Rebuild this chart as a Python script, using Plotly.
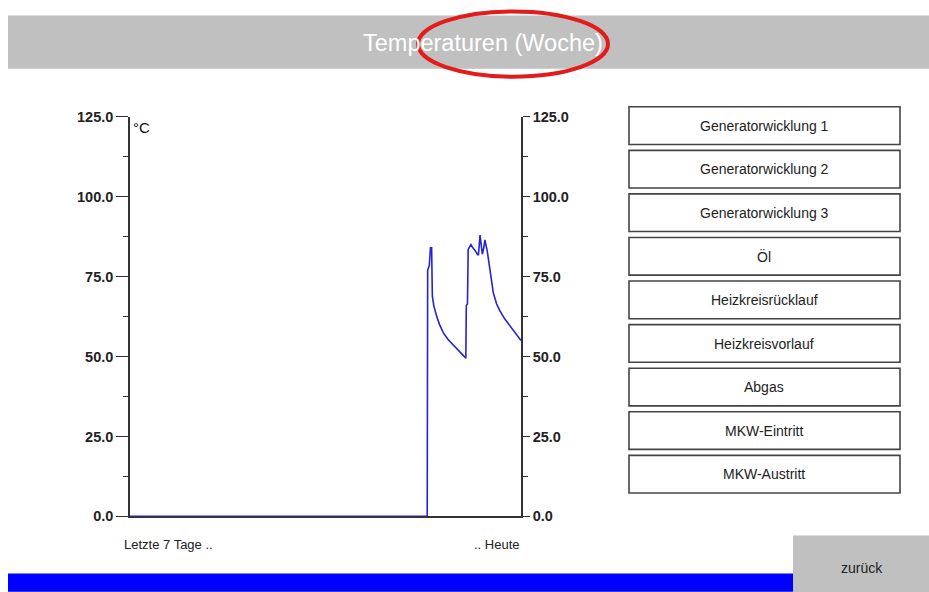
'''
    Wochenverlauf der Temperaturen (Bedienpanel-Ansicht).
'''

import plotly.graph_objects as go

W, HF = 929, 610
# Ausgleich fuer die vertikale Stauchung der Aufnahme (empirisch)
OFF, SC = 9.6, 0.970

# Verlauf ueber die letzten 7 Tage (Stunden 0..168)
hours = [0, 127.7, 127.9, 128.6, 129.1, 129.6, 129.9, 130.5, 131.8, 133.0,
         134.6, 136.5, 138.8, 141.5, 144.3, 144.5, 145.0, 145.3, 146.0, 146.5,
         147.3, 148.2, 149.2, 149.7, 150.4, 151.0, 151.4, 152.0, 152.5, 153.5,
         154.7, 156.1, 157.5, 159.0, 161.0, 163.3, 165.5, 168.0]
temps = [0, 0, 77, 78.5, 84, 84, 69, 66, 62.5, 60,
         57.5, 55.5, 53.7, 51.6, 49.5, 66, 66.5, 83.5, 84.5, 85,
         84, 83.3, 82, 81.7, 88, 83, 82, 84, 86.5, 83,
         77, 70, 66.5, 64.2, 61.8, 59.5, 57.5, 55]

y_range = [0, 125]
button_labels = ['Generatorwicklung 1', 'Generatorwicklung 2', 'Generatorwicklung 3',
                 'Öl', 'Heizkreisrücklauf', 'Heizkreisvorlauf', 'Abgas',
                 'MKW-Eintritt', 'MKW-Austritt']
title_text = 'Temperaturen (Woche)'
unit_text = '°C'
x_left_label = 'Letzte 7 Tage ..'
x_right_label = '.. Heute'
back_label = 'zurück'

FONT = 'Liberation Sans, Arial, sans-serif'
TICKFONT = dict(family='Liberation Sans Narrow, Arial Narrow, Liberation Sans, Arial',
                size=14.5, color='#222', weight='bold')


def px_x(x):
    return x / W


def px_y(y):
    return 1 - ((y - OFF) / SC) / HF


def rect(x0, y0, x1, y1, **kw):
    return dict(type='rect', xref='paper', yref='paper',
                x0=px_x(x0), x1=px_x(x1), y0=px_y(y1), y1=px_y(y0), **kw)


def note(x, y, text, size=14, color='#222', xanchor='center'):
    return dict(x=px_x(x), y=px_y(y), xref='paper', yref='paper', text=text,
                showarrow=False, xanchor=xanchor, yanchor='middle',
                font=dict(family=FONT, size=size, color=color))


fig = go.Figure()
fig.add_trace(go.Scatter(x=hours, y=temps, mode='lines',
                         line=dict(color='#2323d8', width=1.6),
                         hoverinfo='skip'))
# leere Spur, damit die rechte Achse gezeichnet wird
fig.add_trace(go.Scatter(x=[], y=[], yaxis='y2', hoverinfo='skip'))

axis_common = dict(range=y_range, dtick=25, tickformat='.1f', showgrid=False,
                   zeroline=False, showline=True, linecolor='#333', linewidth=1.5,
                   ticks='outside', tickcolor='#333', tickwidth=1.2,
                   tickfont=TICKFONT, fixedrange=True,
                   minor=dict(dtick=12.5, ticks='outside', ticklen=5,
                              tickcolor='#333', tickwidth=1.2))

fig.update_layout(
    autosize=False, width=W, height=HF,
    margin=dict(l=0, r=0, t=0, b=0),
    paper_bgcolor='white', plot_bgcolor='white',
    showlegend=False,
    xaxis=dict(domain=[130 / W, 521 / W], range=[0, 168], showgrid=False,
               zeroline=False, showticklabels=False, ticks='',
               showline=True, linecolor='#333', linewidth=1.5,
               layer='below traces', fixedrange=True),
    yaxis=dict(domain=[px_y(516), px_y(118)], ticklen=12, **axis_common),
    yaxis2=dict(overlaying='y', side='right', anchor='x', ticklen=7, **axis_common),
)

shapes = [
    rect(8, 17, 929, 70, fillcolor='#c0c0c0', line=dict(width=0), layer='below'),
    rect(8, 573, 793, 591, fillcolor='#0000ff', line=dict(width=0), layer='below'),
    rect(793, 535, 929, 592, fillcolor='#c0c0c0', line=dict(width=0), layer='below'),
]
annotations = [
    note(483, 44, title_text, size=23.5, color='white'),
    note(131, 129, unit_text, size=15, color='#111', xanchor='left'),
    note(122, 544, x_left_label, size=13, xanchor='left'),
    note(522, 544, x_right_label, size=13, xanchor='right'),
    note(862, 567, back_label),
]

for i, label in enumerate(button_labels):
    top = 108 + i * 43.4
    shapes.append(rect(629, top, 900, top + 37.5, fillcolor='white',
                       line=dict(color='#444', width=1.6), layer='below'))
    annotations.append(note(764, top + 19, label))

# rote Markierung um den Titel
shapes.append(dict(type='circle', xref='paper', yref='paper',
                   x0=px_x(418), x1=px_x(608), y0=px_y(78), y1=px_y(13),
                   line=dict(color='#e31b1b', width=4), layer='above'))

fig.update_layout(shapes=shapes, annotations=annotations)

# Diagramm fest an die linke obere Ecke des Fensters heften
pin_js = """
var gd = document.getElementById('{plot_id}');
gd.style.position = 'fixed'; gd.style.top = '0px'; gd.style.left = '0px';
document.body.style.margin = '0';
document.documentElement.style.overflow = 'hidden';
"""
fig.write_html('out.html', config={'displayModeBar': False}, post_script=pin_js)
